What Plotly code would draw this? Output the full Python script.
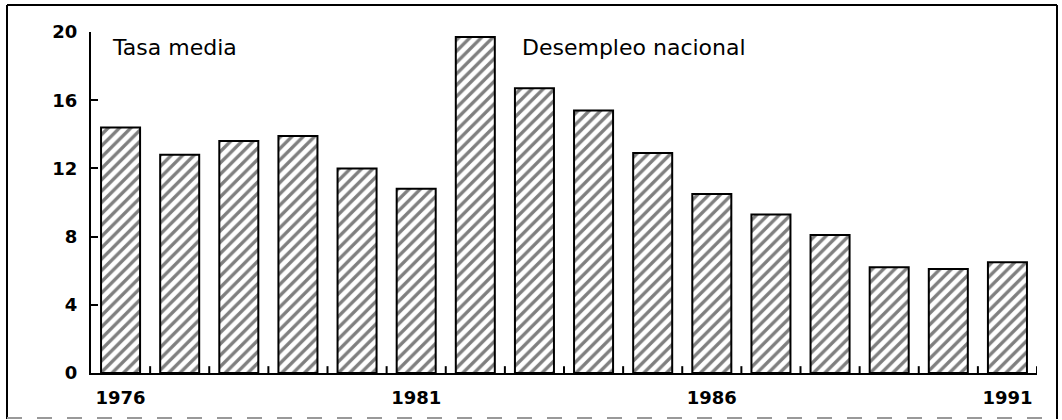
import plotly.graph_objects as go

years = list(range(1976, 1992))
unemployment = [14.4, 12.8, 13.6, 13.9, 12.0, 10.8, 19.7, 16.7, 15.4, 12.9, 10.5, 9.3, 8.1, 6.2, 6.1, 6.5]
label_years = [1976, 1981, 1986, 1991]
y_ticks = [0, 4, 8, 12, 16, 20]

W, H = 1062, 420
L, R, T, B = 91, 1037, 32, 373
pw, ph = R - L, B - T
TICK_LEN = 0.4  # length of the between-bar tick marks, in axis units

def px(x):
    return (x - L) / pw

def py(y):
    return (B - y) / ph

idx = list(range(len(years)))
boundaries = [i + 0.5 for i in idx]

fig = go.Figure()
fig.add_trace(go.Bar(
    x=idx, y=unemployment, width=0.66,
    marker=dict(color="white",
                line=dict(color="black", width=2),
                pattern=dict(shape="/", fgcolor="black", bgcolor="white",
                             size=8, solidity=0.42)),
    hoverinfo="skip",
))
# small upward tick marks on the category axis between the bars
fig.add_trace(go.Scatter(
    x=boundaries, y=[0] * len(boundaries), mode="markers",
    marker=dict(opacity=0, size=1),
    error_y=dict(type="constant", value=TICK_LEN, symmetric=False, valueminus=0,
                 color="black", thickness=2, width=0),
    hoverinfo="skip", showlegend=False, cliponaxis=False,
))

fig.update_layout(
    width=W, height=H,
    margin=dict(l=L, r=W - R, t=T, b=H - B, autoexpand=False),
    paper_bgcolor="white", plot_bgcolor="white",
    showlegend=False,
    font=dict(family="DejaVu Sans", color="black"),
    xaxis=dict(
        range=[-0.5, 15.5], automargin=False,
        tickmode="array",
        tickvals=[years.index(y) for y in label_years],
        ticktext=[str(y) for y in label_years],
        ticks="", showgrid=False, zeroline=False,
        showline=True, linecolor="black", linewidth=2,
        tickfont=dict(family="DejaVu Sans", size=18, color="black", weight="bold"),
        ticklabelstandoff=7,
    ),
    yaxis=dict(
        range=[0, 20], tickvals=y_ticks, automargin=False,
        ticks="inside", ticklen=7, tickwidth=2, tickcolor="black",
        showgrid=False, zeroline=False,
        showline=True, linecolor="black", linewidth=2,
        tickfont=dict(family="DejaVu Sans", size=18, color="black", weight="bold"),
        ticklabelstandoff=8,
    ),
)

fig.add_annotation(text="Tasa media", xref="paper", yref="paper",
                   x=px(110), y=py(48), xanchor="left", yanchor="middle",
                   showarrow=False, font=dict(size=22, family="DejaVu Sans", color="black"))
fig.add_annotation(text="Desempleo nacional", xref="paper", yref="paper",
                   x=px(520), y=py(48), xanchor="left", yanchor="middle",
                   showarrow=False, font=dict(size=22, family="DejaVu Sans", color="black"))

# outer frame
fig.add_shape(type="line", xref="paper", yref="paper", x0=px(7), x1=px(1057), y0=py(5), y1=py(5),
              line=dict(color="black", width=2))
fig.add_shape(type="line", xref="paper", yref="paper", x0=px(7), x1=px(7), y0=py(5), y1=py(419),
              line=dict(color="black", width=2))
fig.add_shape(type="line", xref="paper", yref="paper", x0=px(1057), x1=px(1057), y0=py(5), y1=py(419),
              line=dict(color="black", width=2))
fig.add_shape(type="line", xref="paper", yref="paper", x0=px(7), x1=px(1057), y0=py(418), y1=py(418),
              line=dict(color="#999999", width=2, dash="longdash"))

fig.write_html("out.html", config={"displayModeBar": False},
               post_script="document.body.style.margin='0';document.body.style.overflow='hidden';")
